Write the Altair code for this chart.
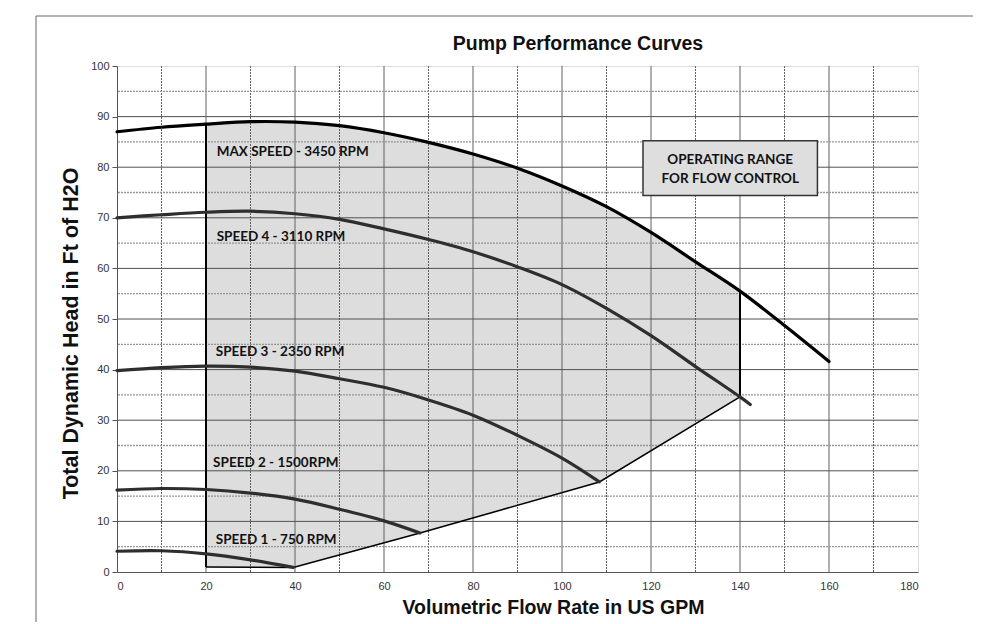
import altair as alt
import pandas as pd

# ---------------- data ----------------
flow_max = [0, 10, 20, 30, 40, 50, 60, 70, 80, 90, 100, 110, 120, 130, 140, 150, 160]
head_max = [87.0, 87.9, 88.5, 89.0, 88.9, 88.2, 86.8, 84.9, 82.6, 79.8, 76.3, 72.2, 67.1, 61.3, 55.5, 48.7, 41.6]

flow_s4 = [0, 10, 20, 30, 40, 50, 60, 70, 80, 90, 100, 110, 120, 130, 140, 142.3]
head_s4 = [70.0, 70.6, 71.1, 71.3, 70.8, 69.7, 67.8, 65.7, 63.3, 60.3, 56.8, 52.1, 46.7, 40.6, 34.6, 33.1]

flow_s3 = [0, 10, 20, 30, 40, 50, 60, 70, 80, 90, 100, 108.4]
head_s3 = [39.8, 40.4, 40.7, 40.5, 39.7, 38.2, 36.5, 34.0, 31.0, 27.0, 22.5, 17.8]

flow_s2 = [0, 10, 20, 30, 40, 50, 60, 68.1]
head_s2 = [16.2, 16.5, 16.3, 15.6, 14.4, 12.4, 10.1, 7.7]

flow_s1 = [0, 10, 20, 30, 39.6]
head_s1 = [4.1, 4.2, 3.6, 2.4, 0.9]

# lower boundary of the operating range (end points of the speed curves)
flow_low = [20, 39.6, 68.1, 108.4, 140]
head_low = [1.0, 0.9, 7.7, 17.8, 34.6]

range_left = 20
range_right = 140

chart_title = "Pump Performance Curves"

curve_labels = ["MAX SPEED - 3450 RPM", "SPEED 4 - 3110 RPM", "SPEED 3 - 2350 RPM",
                "SPEED 2 - 1500RPM", "SPEED 1 - 750 RPM"]
label_x = [22.4, 22.4, 22.2, 21.6, 22.2]
label_y = [82.2, 65.5, 42.6, 20.8, 5.6]

box_lines = ["OPERATING RANGE", "FOR FLOW CONTROL"]
box_text_x = [137.8, 137.8]
box_text_y = [80.6, 76.8]
box_x = [118.2, 157.4]
box_y = [74.4, 85.25]

x_ticks = list(range(0, 181, 20))
y_ticks = list(range(0, 101, 10))
grid_x = list(range(10, 180, 10))
grid_y_major = list(range(10, 100, 10))
grid_y_minor = list(range(5, 100, 10))

# ---------------- tables ----------------
curves = pd.concat([
    pd.DataFrame({"x": flow_max, "y": head_max, "s": "max"}),
    pd.DataFrame({"x": flow_s4, "y": head_s4, "s": "s4"}),
    pd.DataFrame({"x": flow_s3, "y": head_s3, "s": "s3"}),
    pd.DataFrame({"x": flow_s2, "y": head_s2, "s": "s2"}),
    pd.DataFrame({"x": flow_s1, "y": head_s1, "s": "s1"}),
])
max_df = pd.DataFrame({"x": flow_max, "y": head_max})
low_df = pd.DataFrame({"x": flow_low, "y": head_low})
edge_df = pd.DataFrame({
    "x": [range_left, range_right],
    "y": [head_low[0], head_low[-1]],
    "y2": [head_max[flow_max.index(range_left)], head_max[flow_max.index(range_right)]],
})
lab_df = pd.DataFrame({"x": label_x, "y": label_y, "t": curve_labels})
box_df = pd.DataFrame({"x": [box_x[0]], "x2": [box_x[1]], "y": [box_y[0]], "y2": [box_y[1]]})
boxt_df = pd.DataFrame({"x": box_text_x, "y": box_text_y, "t": box_lines})
gx_df = pd.DataFrame({"x": grid_x, "minor": [v % 20 != 0 for v in grid_x]})
gy_df = pd.DataFrame({"y": grid_y_major})
gym_df = pd.DataFrame({"y": grid_y_minor})
title_df = pd.DataFrame({"t": [chart_title]})

FONT = "Liberation Sans"
LFONT = "Lato"
INTERP = "catmull-rom"

xs = alt.Scale(domain=[0, 180], nice=False, zero=False)
ys = alt.Scale(domain=[0, 100], nice=False, zero=False)

x_axis = alt.Axis(values=x_ticks, grid=False, tickSize=0, labelPadding=8,
                  labelFont=FONT, labelFontSize=11, labelColor="#333333",
                  domainColor="#555555",
                  title="Volumetric Flow Rate in US GPM", titleFont=FONT, titleFontSize=19.5,
                  titleFontWeight="bold", titleColor="#111111",
                  titleX=436, titleY=35, titleBaseline="middle", titleAlign="center")
y_axis = alt.Axis(values=y_ticks, grid=False, tickSize=5, tickColor="#555555", labelPadding=3,
                  labelFont=FONT, labelFontSize=11, labelColor="#333333",
                  domainColor="#555555",
                  title="Total Dynamic Head in Ft of H2O", titleFont=FONT, titleFontSize=21.5,
                  titleFontWeight="bold", titleColor="#111111",
                  titleX=-46, titleY=267, titleAngle=-90, titleBaseline="middle",
                  titleAlign="center")

X = alt.X("x:Q", scale=xs, axis=x_axis)
Y = alt.Y("y:Q", scale=ys, axis=y_axis)

# gray operating range (under the max curve, between 20 and 140)
fill_area = alt.Chart(max_df).transform_filter(
    (alt.datum.x >= range_left) & (alt.datum.x <= range_right)
).mark_area(color="#dddddd", interpolate=INTERP, opacity=1).encode(x=X, y=Y, y2=alt.datum(0))

# white area below the lower boundary
white_area = alt.Chart(low_df).mark_area(color="white", opacity=1).encode(x=X, y=Y, y2=alt.datum(0))

grid_v = alt.Chart(gx_df).mark_rule(color="#606060", strokeWidth=1).encode(
    x=X,
    strokeDash=alt.condition("datum.minor", alt.value([2, 1]), alt.value([1, 0])),
)
grid_h = alt.Chart(gy_df).mark_rule(color="#505050", strokeWidth=1).encode(y=Y)
grid_hm = alt.Chart(gym_df).mark_rule(color="#959595", strokeWidth=1.3, strokeDash=[2, 1]).encode(y=Y)

box = alt.Chart(box_df).mark_rect(fill="#dedede", stroke="#333333", strokeWidth=1.5).encode(
    x=X, x2="x2", y=Y, y2="y2")

edges = alt.Chart(edge_df).mark_rule(color="#000000", strokeWidth=2).encode(x=X, y=Y, y2="y2")
low_line = alt.Chart(low_df).mark_line(color="#000000", strokeWidth=1.5).encode(x=X, y=Y)

curve_lines = alt.Chart(curves).mark_line(interpolate=INTERP, strokeWidth=3.2,
                                          strokeCap="round").encode(
    x=X, y=Y, detail="s:N",
    color=alt.condition("datum.s == 'max'", alt.value("#000000"), alt.value("#2e2e2e")),
)

labels = alt.Chart(lab_df).mark_text(align="left", baseline="alphabetic", font=LFONT,
                                     fontSize=13.5, fontWeight="bold", color="#111111").encode(
    x=X, y=Y, text="t:N")
box_text = alt.Chart(boxt_df).mark_text(align="center", baseline="alphabetic", font=LFONT,
                                        fontSize=13.5, fontWeight="bold", color="#111111").encode(
    x=X, y=Y, text="t:N")

# chart title and chart-area frame (decoration, in pixels of the view)
title_mark = alt.Chart(title_df).mark_text(align="center", baseline="alphabetic", font=FONT,
                                           fontSize=19.5, fontWeight="bold", color="#111111").encode(
    x=alt.value(461), y=alt.value(-16), text="t:N")
frame_left = alt.Chart(title_df).mark_rule(color="#666666", strokeWidth=1).encode(
    x=alt.value(-81), y=alt.value(-50), y2=alt.value(570))
frame_top = alt.Chart(title_df).mark_rule(color="#666666", strokeWidth=1).encode(
    x=alt.value(-81), x2=alt.value(870), y=alt.value(-50))

chart = alt.layer(
    fill_area, white_area, grid_v, grid_hm, grid_h, box, edges, low_line,
    curve_lines, labels, box_text, title_mark, frame_left, frame_top,
).properties(
    width=801, height=506,
    autosize=alt.AutoSizeParams(type="none"),
    padding={"left": 109, "top": 58, "right": 55, "bottom": 50},
).configure_view(stroke="#555555", strokeWidth=1).configure(background="white")

chart.save("out.html", embed_options={"renderer": "svg", "actions": False})
